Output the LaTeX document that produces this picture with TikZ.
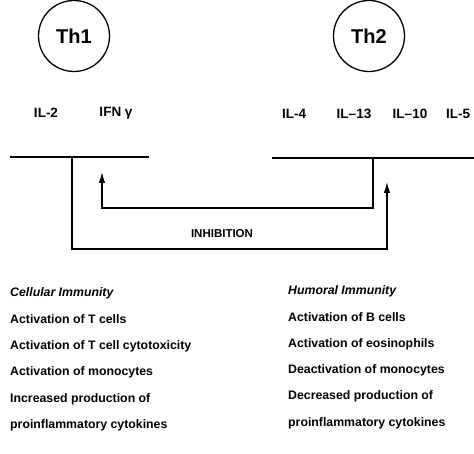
\documentclass[tikz,border=0pt]{standalone}
\usepackage{fontspec}
\setmainfont{Liberation Sans}
\usepackage{tikz}
\usetikzlibrary{arrows.meta,positioning}

\begin{document}
\begin{tikzpicture}[x=1pt,y=-1pt,>={Latex[length=11pt,width=6.5pt]},
  line cap=butt,line join=miter,font=\bfseries,
  cell/.style={draw,circle,line width=1.3pt,minimum size=71pt,inner sep=0pt,
    font=\fontsize{20}{22}\selectfont\bfseries},
  cyto/.style={font=\fontsize{13.5}{15}\selectfont\bfseries,inner sep=0pt},
  bar/.style={line width=2.6pt},
  arr/.style={->,line width=1.1pt},
  item/.style={anchor=west,inner sep=0pt,font=\fontsize{12.3}{14}\selectfont\bfseries},
  head/.style={item,font=\fontsize{12.3}{14}\selectfont\bfseries\itshape}]
\path[use as bounding box] (0,0) rectangle (474,454);
\fill[white] (0,0) rectangle (474,454);
% cells and their cytokines
\node[cell] (th1) at (74,36) {Th1};
\node[cell] (th2) at (369,36) {Th2};
\node[cyto] (il2) at (46,113) {IL-2};
\node[cyto] (ifng) at (116,113) {IFN γ};
\node[cyto] (il4) at (294,114) {IL-4};
\node[cyto] (il13) at (354,114) {IL–13};
\node[cyto] (il10) at (410,114) {IL–10};
\node[cyto] (il5) at (458,114) {IL-5};
% cytokine bars
\draw[bar] (10,157) -- (149,157);
\draw[bar] (272,158) -- (474,158);
% cross inhibition
\coordinate (b1) at (72,157);
\coordinate (b2) at (373,158);
\coordinate (t1) at (102,172);
\coordinate (t2) at (387,182);
\coordinate (c1) at (387,249);
\coordinate (c2) at (102,208);
\draw[arr] (b1) |- (c1) -- (t2);
\draw[arr] (b2) |- (c2) -- (t1);
\node[inner sep=0pt,font=\fontsize{11.5}{13}\selectfont\bfseries] (inh) at (222,234) {INHIBITION};
% cellular side
\node[head] (cel) at (10,293) {Cellular Immunity};
\node[item] (c1a) at (10,319) {Activation of T cells};
\node[item] (c1b) at (10,346) {Activation of T cell cytotoxicity};
\node[item] (c1c) at (10,372) {Activation of monocytes};
\node[item] (c1d) at (10,399) {Increased production of};
\node[item] (c1e) at (10,425) {proinflammatory cytokines};
% humoral side
\node[head] (hum) at (288,291) {Humoral Immunity};
\node[item] (h1a) at (288,317) {Activation of B cells};
\node[item] (h1b) at (288,344) {Activation of eosinophils};
\node[item] (h1c) at (288,370) {Deactivation of monocytes};
\node[item] (h1d) at (288,396) {Decreased production of};
\node[item] (h1e) at (288,423) {proinflammatory cytokines};
\end{tikzpicture}
\end{document}
